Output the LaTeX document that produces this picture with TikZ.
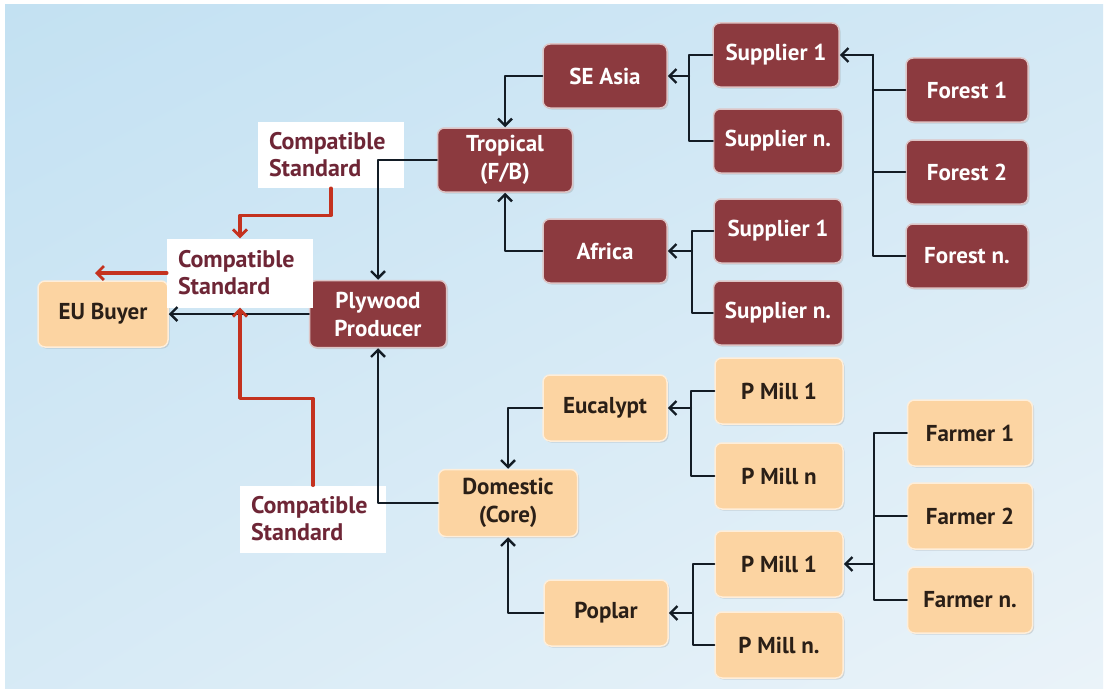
\documentclass[tikz,border=0pt]{standalone}
\usepackage{fontspec}
\setmainfont{PT Sans}
\usetikzlibrary{arrows.meta,shadows,shadings}
\definecolor{boxred}{HTML}{8C3A3F}
\definecolor{boxtan}{HTML}{FCD4A2}
\definecolor{tantext}{HTML}{2A1F17}
\definecolor{stdtext}{HTML}{6E2636}
\definecolor{linkcol}{HTML}{131C25}
\definecolor{stdred}{HTML}{C4321F}
\definecolor{bgtop}{HTML}{C3E1F2}
\definecolor{bglow}{HTML}{EAF3F9}
\tikzset{
  chainbox/.style={rectangle,rounded corners=7pt,minimum width=124pt,minimum height=64pt,
    inner sep=2pt,align=center,font=\fontsize{23}{28}\selectfont\bfseries,line width=1.5pt,
    drop shadow={opacity=0.25,shadow xshift=1.5pt,shadow yshift=-1.5pt}},
  redbox/.style={chainbox,fill=boxred,draw=boxred!30!white,text=white},
  tanbox/.style={chainbox,fill=boxtan,draw=boxtan!40!white,text=tantext},
  stdbox/.style={rectangle,fill=white,text=stdtext,align=left,inner xsep=11pt,
    text width=124pt,font=\fontsize{24}{27}\selectfont\bfseries},
  link/.style={draw=linkcol,line width=2.4pt},
  arr/.style={link,-{Straight Barb[length=7pt,width=14pt,line width=2.4pt]}},
  redarr/.style={draw=stdred,line width=3.4pt,-{Straight Barb[length=7pt,width=14pt,line width=2.8pt]}},
  every picture/.style={line cap=round,line join=round}
}
\begin{document}
\begin{tikzpicture}[x=1pt,y=-1pt]
  \useasboundingbox (0,0) rectangle (1108,693);
  \fill[white] (0,0) rectangle (1108,693);
  \shade[upper left=bgtop,upper right=bgtop!60!bglow,lower left=bgtop!50!bglow,lower right=bglow]
    (5,5) rectangle (1103,688);

  \node[redbox] (se) at (605,76) {SE Asia};
  \node[redbox] (afr) at (605,251) {Africa};
  \node[redbox,minimum width=126pt] (sup1) at (776,55) {Supplier 1};
  \node[redbox,minimum width=129pt] (supn) at (778,141) {Supplier n.};
  \node[redbox,minimum width=128pt] (asup1) at (778,231) {Supplier 1};
  \node[redbox,minimum width=129pt] (asupn) at (778,313) {Supplier n.};
  \node[redbox,minimum width=122pt] (for1) at (967,90) {Forest 1};
  \node[redbox,minimum width=122pt] (for2) at (967,172) {Forest 2};
  \node[redbox,minimum width=122pt] (forn) at (967,256) {Forest n.};
  \node[redbox,minimum width=135pt] (tro) at (505,160) {Tropical\\(F/B)};
  \node[redbox,minimum width=137pt,minimum height=67pt] (ply) at (378,314) {Plywood\\Producer};

  \node[tanbox,minimum width=130pt,minimum height=66pt] (eu) at (103,314) {EU Buyer};
  \node[tanbox,minimum width=139pt,minimum height=67pt] (dom) at (508,503) {Domestic\\(Core)};
  \node[tanbox,minimum height=66pt] (euc) at (605,408) {Eucalypt};
  \node[tanbox,minimum height=66pt] (pop) at (606,613) {Poplar};
  \node[tanbox,minimum width=128pt,minimum height=66pt] (pm1) at (779,391) {P Mill 1};
  \node[tanbox,minimum width=128pt,minimum height=66pt] (pmn) at (779,476) {P Mill n};
  \node[tanbox,minimum width=128pt,minimum height=66pt] (ppm1) at (779,564) {P Mill 1};
  \node[tanbox,minimum width=128pt,minimum height=66pt] (ppmn) at (779,645) {P Mill n.};
  \node[tanbox,minimum width=125pt,minimum height=66pt] (far1) at (970,433) {Farmer 1};
  \node[tanbox,minimum width=125pt,minimum height=66pt] (far2) at (970,516) {Farmer 2};
  \node[tanbox,minimum width=125pt,minimum height=66pt] (farn) at (970,600) {Farmer n.};

  \node[stdbox,minimum height=66pt] (std1) at (331,155) {Compatible\\Standard};
  \node[stdbox,minimum height=69pt] (std2) at (240,273) {Compatible\\Standard};
  \node[stdbox,minimum height=67pt] (std3) at (313,519) {Compatible\\Standard};

  \coordinate (sebus) at (689,76);
  \coordinate (afbus) at (692,251);
  \coordinate (fobus) at (873,55);
  \coordinate (eubus) at (691,408);
  \coordinate (pobus) at (693,613);
  \coordinate (fabus) at (874,564);
  \coordinate (redend) at (95,273);

  \draw[link] (sup1.west) -| (sebus) (supn.west) -| (sebus);
  \draw[arr] (sebus) -- (se.east);
  \draw[link] (asup1.west) -| (afbus) (asupn.west) -| (afbus);
  \draw[arr] (afbus) -- (afr.east);
  \draw[link] (for1.west) -| (fobus) (for2.west) -| (fobus) (forn.west) -| (fobus);
  \draw[arr] (fobus) -- (sup1.east);
  \draw[link] (pm1.west) -| (eubus) (pmn.west) -| (eubus);
  \draw[arr] (eubus) -- (euc.east);
  \draw[link] (ppm1.west) -| (pobus) (ppmn.west) -| (pobus);
  \draw[arr] (pobus) -- (pop.east);
  \draw[link] (far1.west) -| (fabus) (far2.west) -| (fabus) (farn.west) -| (fabus);
  \draw[arr] (fabus) -- (ppm1.east);

  \draw[arr] (se.west) -| (tro.north);
  \draw[arr] (afr.west) -| (tro.south);
  \draw[arr] (euc.west) -| (dom.north);
  \draw[arr] (pop.west) -| (dom.south);
  \draw[arr] (tro.west) -| (ply.north);
  \draw[arr] (dom.west) -| (ply.south);
  \draw[arr] (ply.west) -- (eu.east);

  \draw[redarr] (std1.south) -- ++(0,27) -| (std2.north);
  \draw[redarr] (std3.north) -- ++(0,-87) -| (std2.south);
  \draw[redarr] (std2.west) -- (redend);
\end{tikzpicture}
\end{document}
